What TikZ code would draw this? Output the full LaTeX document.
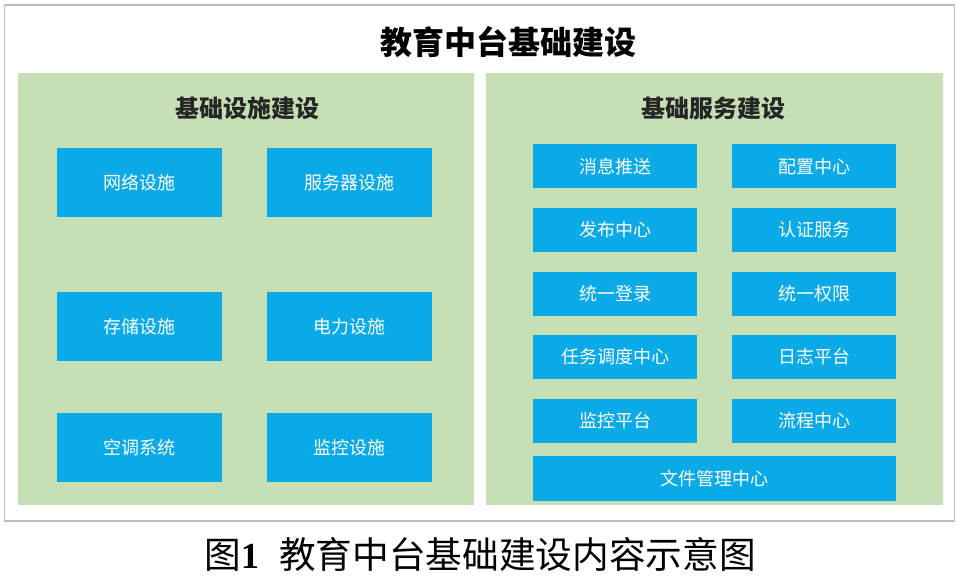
\documentclass[tikz,border=0pt]{standalone}
\usepackage{fontspec}
\setmainfont{Noto Sans CJK SC}
\newfontfamily\numfont{Liberation Serif}
\usetikzlibrary{positioning}

\definecolor{itemblue}{HTML}{0AAAE8}
\definecolor{panelgreen}{HTML}{C6DFB5}
\definecolor{framegray}{HTML}{BDBDBD}

\begin{document}
\begin{tikzpicture}[
  x=0.75pt, y=-0.75pt,
  node distance=14.25pt and 25.9pt,
  frame/.style={rectangle, draw=framegray, line width=1.2pt, fill=white,
                minimum width=712.5pt, minimum height=387pt, inner sep=0pt},
  panel/.style={rectangle, fill=panelgreen, minimum width=342pt,
                minimum height=324pt, inner sep=0pt},
  item/.style={rectangle, fill=itemblue, text=white, inner sep=0pt,
               minimum width=123.75pt, minimum height=51.75pt,
               font=\fontsize{13.5}{16}\selectfont},
  sitem/.style={item, minimum width=123pt, minimum height=33pt},
  head/.style={font=\fontsize{18}{21}\selectfont\bfseries, text=black!85}
]
\useasboundingbox (0,0) rectangle (961,584);

\node[frame] (frm) at (479.5,263) {};
\node[font=\fontsize{24}{28}\selectfont\bfseries] (title) at (508,42) {教育中台基础建设};

% two panels
\node[panel] (infra) at (246,289) {};
\node[panel, minimum width=342.75pt] (serv) at (714.5,289) {};
\node[head] (infrah) at (247,108) {基础设施建设};
\node[head] (servh) at (713,108) {基础服务建设};

% infrastructure items
\node[item] (net) at (139.5,182.5) {网络设施};
\node[item] (srv) at (349.5,182.5) {服务器设施};
\node[item] (sto) at (139.5,326.5) {存储设施};
\node[item] (pwr) at (349.5,326.5) {电力设施};
\node[item] (air) at (139.5,447.5) {空调系统};
\node[item] (mon) at (349.5,447.5) {监控设施};

% service items
\node[sitem] (msg) at (615,166.5) {消息推送};
\node[sitem, right=of msg] (cfg) {配置中心};
\node[sitem, below=of msg] (pub) {发布中心};
\node[sitem, right=of pub] (auth) {认证服务};
\node[sitem, below=of pub] (sso) {统一登录};
\node[sitem, right=of sso] (perm) {统一权限};
\node[sitem, below=of sso] (job) {任务调度中心};
\node[sitem, right=of job] (log) {日志平台};
\node[sitem, below=of job] (watch) {监控平台};
\node[sitem, right=of watch] (flow) {流程中心};
\node[sitem, minimum width=272.25pt, minimum height=33.75pt] (file) at (714.5,478.5) {文件管理中心};

% caption
\node[font=\fontsize{27.5}{32}\selectfont] (cap) at (480,554)
  {图{\numfont\bfseries 1}\hspace{0.55em}教育中台基础建设内容示意图};
\end{tikzpicture}
\end{document}
